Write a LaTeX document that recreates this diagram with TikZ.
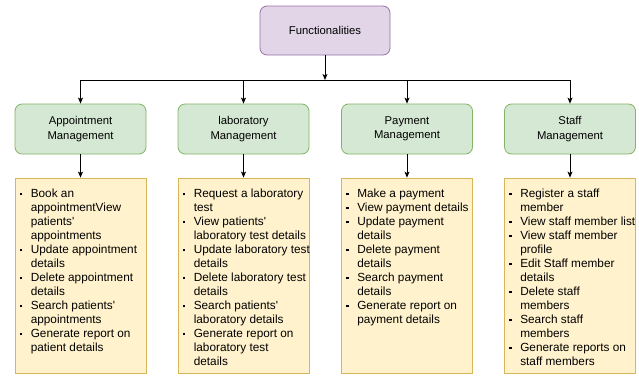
\documentclass[tikz,border=0pt]{standalone}
\usepackage{fontspec}
\newfontfamily\diagfont{Liberation Sans}
\usetikzlibrary{arrows.meta}

\definecolor{funcfill}{HTML}{E1D5E7}
\definecolor{funcline}{HTML}{9673A6}
\definecolor{grpfill}{HTML}{D5E8D4}
\definecolor{grpline}{HTML}{82B366}
\definecolor{lstfill}{HTML}{FFF2CC}
\definecolor{lstline}{HTML}{D6B656}

% square bullet and the indent of wrapped lines
\newcommand\bul{\makebox[11pt][l]{\raisebox{1.7pt}{\rule{2.6pt}{2.6pt}}}}
\newcommand\cnt{\hspace*{11pt}}

\tikzset{
  headbox/.style={draw=funcline, fill=funcfill, rounded corners=7pt,
    minimum width=130pt, minimum height=49pt, inner sep=0pt, align=center,
    line width=0.8pt, font=\diagfont\fontsize{11.3}{14.5}\selectfont},
  groupbox/.style={draw=grpline, fill=grpfill, rounded corners=7pt,
    minimum width=131pt, minimum height=50pt, inner sep=0pt, align=center,
    line width=0.8pt, font=\diagfont\fontsize{11.3}{14.5}\selectfont},
  listbox/.style={draw=lstline, fill=lstfill, minimum width=131pt,
    minimum height=195pt, inner sep=0pt, line width=0.8pt},
  listtext/.style={anchor=base west, inner sep=0pt,
    font=\diagfont\fontsize{11.8}{14}\selectfont},
  link/.style={draw=black, line width=0.8pt},
  arrowlink/.style={link, -{Stealth[length=6pt,width=5pt,inset=1.5pt]}}
}

\begin{document}
\begin{tikzpicture}[x=1pt,y=-1pt]
\useasboundingbox (0,0) rectangle (639,375);

% root
\node[headbox] (func) at (325,30.5) {Functionalities};

% modules
\node[groupbox] (appt)  at (80.5,129) {Appointment\\Management};
\node[groupbox] (lab)   at (243.5,129) {laboratory\\Management};
\node[groupbox] (pay)   at (407,129) {Payment\\Management};
\node[groupbox] (staff) at (570,129) {Staff\\Management};

% feature lists
\node[listbox] (apptlist)  at (80.5,275.5) {};
\node[listbox] (lablist)   at (243.5,275.5) {};
\node[listbox] (paylist)   at (407,275.5) {};
\node[listbox] (stafflist) at (570,275.5) {};

\node[listtext] (apptitems) at ([shift={(5,19.5)}]apptlist.north west) {%
\begin{tabular}[t]{@{}l@{}}
\bul Book an\\
\cnt appointmentView\\
\cnt patients\textquotesingle\\
\cnt appointments\\
\bul Update appointment\\
\cnt details\\
\bul Delete appointment\\
\cnt details\\
\bul Search patients\textquotesingle\\
\cnt appointments\\
\bul Generate report on\\
\cnt patient details
\end{tabular}};

\node[listtext] (labitems) at ([shift={(5,19.5)}]lablist.north west) {%
\begin{tabular}[t]{@{}l@{}}
\bul Request a laboratory\\
\cnt test\\
\bul View patients\textquotesingle\\
\cnt laboratory test details\\
\bul Update laboratory test\\
\cnt details\\
\bul Delete laboratory test\\
\cnt details\\
\bul Search patients\textquotesingle\\
\cnt laboratory details\\
\bul Generate report on\\
\cnt laboratory test\\
\cnt details
\end{tabular}};

\node[listtext] (payitems) at ([shift={(5,19.5)}]paylist.north west) {%
\begin{tabular}[t]{@{}l@{}}
\bul Make a payment\\
\bul View payment details\\
\bul Update payment\\
\cnt details\\
\bul Delete payment\\
\cnt details\\
\bul Search payment\\
\cnt details\\
\bul Generate report on\\
\cnt payment details
\end{tabular}};

\node[listtext] (staffitems) at ([shift={(5,19.5)}]stafflist.north west) {%
\begin{tabular}[t]{@{}l@{}}
\bul Register a staff\\
\cnt member\\
\bul View staff member list\\
\bul View staff member\\
\cnt profile\\
\bul Edit Staff member\\
\cnt details\\
\bul Delete staff\\
\cnt members\\
\bul Search staff\\
\cnt members\\
\bul Generate reports on\\
\cnt staff members
\end{tabular}};

% distribution bus
\coordinate (bus) at (325,80);
\coordinate (busA) at (appt.north |- bus);
\coordinate (busD) at (staff.north |- bus);

\draw[arrowlink] (func.south) -- (func.south |- bus);
\draw[link] (busA) -- (busD);
\foreach \m in {appt,lab,pay,staff} {
  \draw[arrowlink] (\m.north |- bus) -- (\m.north);
  \draw[arrowlink] (\m.south) -- (\m list.north);
}
\end{tikzpicture}
\end{document}
